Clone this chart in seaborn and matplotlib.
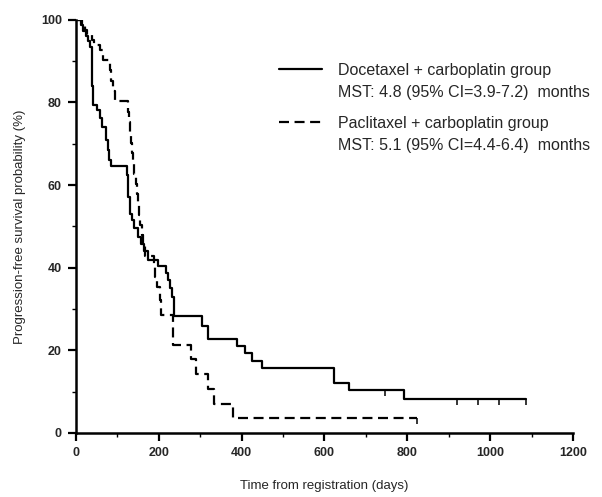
import numpy as np
import pandas as pd
import matplotlib
matplotlib.use("Agg")
import matplotlib.pyplot as plt
import seaborn as sns
from matplotlib.lines import Line2D
from matplotlib.ticker import MultipleLocator

# Kaplan-Meier step points (day of drop, survival % after drop)
doce_days = [0, 12, 18, 24, 29, 34, 38, 40, 42, 52, 58, 64, 73, 77, 81, 85,
             124, 127, 130, 135, 141, 150, 158, 165, 174, 198, 218, 223, 227,
             231, 238, 305, 318, 390, 408, 425, 450, 622, 658, 792, 1087]
doce_pct = [100, 98.7, 97.4, 96.1, 94.8, 93.5, 89, 84, 79.5, 78.2, 76.3, 74,
            71, 68.5, 66, 64.5, 62.5, 57, 53, 51.5, 49.5, 47.5, 45.8, 44, 41.8,
            40.4, 38.8, 37, 35, 33, 28.3, 25.8, 22.8, 21, 19.4, 17.4, 15.7,
            12.1, 10.5, 8.2, 8.2]

pacl_days = [0, 15, 22, 28, 40, 44, 58, 66, 82, 86, 90, 95, 126, 128, 130,
             133, 136, 139, 141, 144, 147, 150, 153, 156, 159, 163, 167, 188,
             192, 197, 202, 206, 234, 278, 290, 320, 333, 380, 823]
pacl_pct = [100, 98.8, 97.6, 96.4, 95.2, 94, 92.8, 90.3, 87.8, 85.3, 82.8,
            80.3, 77.8, 75.3, 72.8, 70.3, 67.8, 65.3, 62.8, 60.3, 57.8, 55.3,
            52.8, 50.3, 47.8, 45.3, 42.8, 40.3, 37.8, 35.3, 32.1, 28.6, 21.4,
            17.9, 14.3, 10.7, 7.1, 3.6, 3.6]

# censored observations (days)
doce_censor = [745, 920, 970, 1020, 1087]
pacl_censor = [823]

doce_label = "Docetaxel + carboplatin group"
doce_mst = "MST: 4.8 (95% CI=3.9-7.2)  months"
pacl_label = "Paclitaxel + carboplatin group"
pacl_mst = "MST: 5.1 (95% CI=4.4-6.4)  months"

df = pd.concat([
    pd.DataFrame({"days": doce_days, "pfs": doce_pct, "group": "doce"}),
    pd.DataFrame({"days": pacl_days, "pfs": pacl_pct, "group": "pacl"}),
])

sns.set_style("ticks")
plt.rcParams["font.family"] = ["Liberation Sans", "DejaVu Sans"]

fig = plt.figure(figsize=(6.02, 4.97), dpi=100)
ax = fig.add_axes([0.126, 0.129, 0.826, 0.831])

dash = (4.5, 2.5)
sns.lineplot(data=df, x="days", y="pfs", style="group", estimator=None,
             color="black", linewidth=1.6, drawstyle="steps-post",
             dashes={"doce": "", "pacl": dash}, legend=False, ax=ax)


def step_value(days, pct, t):
    idx = np.searchsorted(days, t, side="right") - 1
    return np.array(pct)[idx]


ax.plot(doce_censor, step_value(doce_days, doce_pct, doce_censor),
        linestyle="none", marker=3, markersize=4, mew=1.1, color="black")
ax.plot(pacl_censor, step_value(pacl_days, pacl_pct, pacl_censor),
        linestyle="none", marker=3, markersize=4, mew=1.1, color="black")

ax.set_xlim(0, 1200)
ax.set_ylim(0, 100)
ax.xaxis.set_major_locator(MultipleLocator(200))
ax.xaxis.set_minor_locator(MultipleLocator(100))
ax.yaxis.set_major_locator(MultipleLocator(20))
ax.yaxis.set_minor_locator(MultipleLocator(10))
ax.tick_params(which="major", length=6, width=1.6, direction="out",
               labelsize=9, pad=4, color="black")
ax.tick_params(which="minor", length=3, width=1.0, direction="out", color="black")
for lab in ax.get_xticklabels() + ax.get_yticklabels():
    lab.set_fontweight("bold")

for s in ["top", "right"]:
    ax.spines[s].set_visible(False)
for s in ["left", "bottom"]:
    ax.spines[s].set_linewidth(1.8)
    ax.spines[s].set_color("black")

ax.set_xlabel("Time from registration (days)", fontsize=9.5, labelpad=15)
ax.set_ylabel("Progression-free survival probability (%)", fontsize=9.5, labelpad=11)

blank = Line2D([], [], linestyle="none")
h1 = Line2D([], [], color="black", linewidth=1.6)
h2 = Line2D([], [], color="black", linewidth=1.6, linestyle=(0, dash))
leg_kw = dict(frameon=False, fontsize=11.5, loc="upper left", borderpad=0,
              handlelength=2.7, handletextpad=1.0, labelspacing=0.45)
leg1 = ax.legend([h1, blank], [doce_label, doce_mst],
                 bbox_to_anchor=(0.392, 0.915), **leg_kw)
ax.add_artist(leg1)
ax.legend([h2, blank], [pacl_label, pacl_mst],
          bbox_to_anchor=(0.392, 0.787), **leg_kw)

fig.savefig("out.png", dpi=100)
